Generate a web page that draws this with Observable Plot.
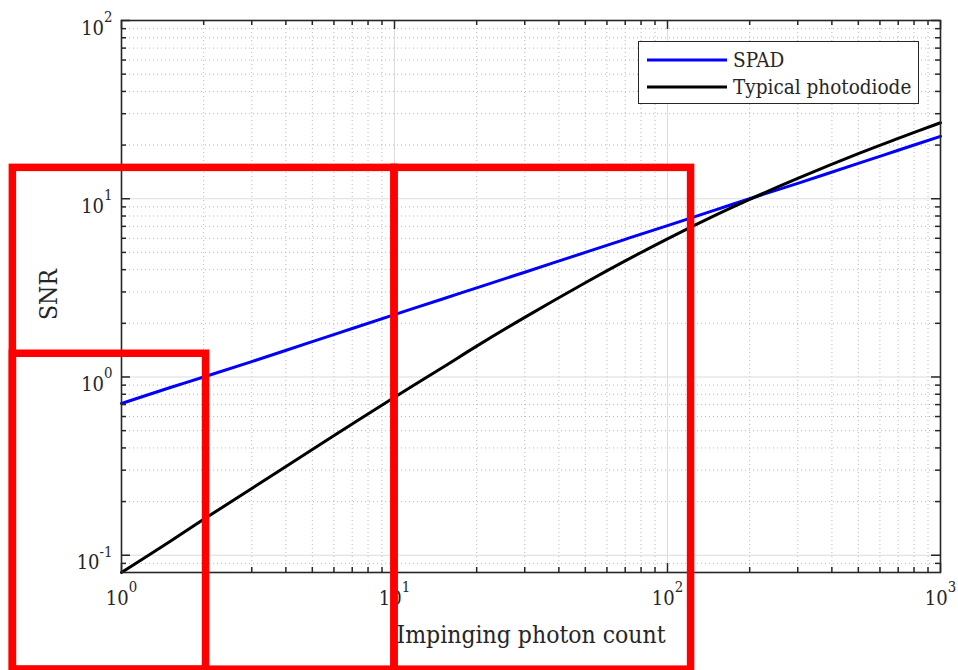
<!DOCTYPE html>
<html>
<head>
<meta charset="utf-8">
<script src="https://cdn.jsdelivr.net/npm/d3@7"></script>
<script src="https://cdn.jsdelivr.net/npm/@observablehq/plot@0.6"></script>
<style>
  body { margin: 0; background: #fff; }
  #chart {
    position: relative; width: 958px; height: 670px;
    font-family: "DejaVu Serif Condensed", "DejaVu Serif", serif;
    font-stretch: condensed; color: #262626;
  }
  #chart svg text { font-stretch: condensed; }
  #legend {
    position: absolute; left: 638px; top: 41px; width: 279px; height: 61px;
    border: 1.5px solid #262626; background: #fff; font-size: 20.5px;
  }
  #legend .row { position: absolute; left: 0; display: flex; align-items: center; height: 26px; }
  #legend .row svg { margin-left: 8px; margin-right: 6px; }
</style>
</head>
<body>
<div id="chart"></div>
<script>
// Photon counts at which the SNR curves were sampled
const photonCount = [1, 1.5, 2, 3, 5, 7, 10, 15, 20, 30, 50, 70, 100, 150, 200, 300, 500, 700, 1000];
// SNR of the single-photon avalanche diode
const spadSNR = [0.71, 0.87, 1.0, 1.22, 1.58, 1.87, 2.24, 2.74, 3.16, 3.87, 5.0, 5.92, 7.07, 8.66, 10.0, 12.2, 15.8, 18.7, 22.4];
// SNR of a typical photodiode (read-noise limited at low counts)
const photodiodeSNR = [0.080, 0.119, 0.159, 0.237, 0.392, 0.545, 0.77, 1.13, 1.49, 2.16, 3.38, 4.48, 5.96, 8.09, 9.92, 13.0, 17.9, 21.8, 26.7];

const seriesNames = ["SPAD", "Typical photodiode"];
const seriesColors = ["#0000ff", "#000000"];

const xLabel = "Impinging photon count";
const yLabel = "SNR";

// Axis ticks (log decades) and their exponent labels
const xTickValues = [1, 10, 100, 1000];
const xTickExponents = ["0", "1", "2", "3"];
const yTickValues = [0.1, 1, 10, 100];
const yTickExponents = ["-1", "0", "1", "2"];
const xMinorTicks = [2, 3, 4, 5, 6, 7, 8, 9, 20, 30, 40, 50, 60, 70, 80, 90, 200, 300, 400, 500, 600, 700, 800, 900];
const yMinorTicks = [0.09, 0.2, 0.3, 0.4, 0.5, 0.6, 0.7, 0.8, 0.9, 2, 3, 4, 5, 6, 7, 8, 9, 20, 30, 40, 50, 60, 70, 80, 90];

// Highlight boxes, in data units (photon count, SNR)
const boxX1 = [0.4, 10, 0.4];
const boxX2 = [10, 122, 2.04];
const boxY1 = [0.0228, 0.0228, 0.0228];
const boxY2 = [14.9, 14.9, 1.35];

const rows = photonCount.flatMap((n, i) => [
  {n, snr: spadSNR[i], series: seriesNames[0]},
  {n, snr: photodiodeSNR[i], series: seriesNames[1]}
]);
const boxes = boxX1.map((x1, i) => ({x1, x2: boxX2[i], y1: boxY1[i], y2: boxY2[i]}));
const xTicks = xTickValues.map((v, i) => ({v, label: "10^" + xTickExponents[i]}));
const yTicks = yTickValues.map((v, i) => ({v, label: "10^" + yTickExponents[i]}));

const W = 958, H = 670, mL = 121, mR = 18, mT = 20, mB = 98;
const innerW = W - mL - mR, innerH = H - mT - mB;
const ink = "#262626";
const majorLen = 9, minorLen = 5;

const chart = Plot.plot({
  width: W, height: H,
  marginLeft: mL, marginRight: mR, marginTop: mT, marginBottom: mB,
  x: {type: "log", domain: [1, 1000], axis: null},
  y: {type: "log", domain: [0.08, 100], axis: null},
  color: {domain: seriesNames, range: seriesColors},
  style: {
    fontFamily: "'DejaVu Serif Condensed', 'DejaVu Serif', serif",
    fontSize: "20px", color: ink, background: "#fff", overflow: "visible"
  },
  marks: [
    // minor grid (dotted) and major grid (solid)
    Plot.ruleX(xMinorTicks, {stroke: "#b9b9b9", strokeWidth: 1, strokeDasharray: "1,3"}),
    Plot.ruleY(yMinorTicks, {stroke: "#b9b9b9", strokeWidth: 1, strokeDasharray: "1,3"}),
    Plot.ruleX(xTickValues, {stroke: "#dcdcdc", strokeWidth: 1}),
    Plot.ruleY(yTickValues, {stroke: "#dcdcdc", strokeWidth: 1}),
    // curves
    Plot.line(rows, {x: "n", y: "snr", z: "series", stroke: "series", strokeWidth: 3, curve: "catmull-rom"}),
    // box around the axes
    Plot.frame({stroke: ink, strokeWidth: 1.6}),
    // inward ticks on all four sides
    Plot.ruleX(xTickValues, {stroke: ink, strokeWidth: 1.5, insetTop: innerH - majorLen}),
    Plot.ruleX(xTickValues, {stroke: ink, strokeWidth: 1.5, insetBottom: innerH - majorLen}),
    Plot.ruleX(xMinorTicks, {stroke: ink, strokeWidth: 1.5, insetTop: innerH - minorLen}),
    Plot.ruleX(xMinorTicks, {stroke: ink, strokeWidth: 1.5, insetBottom: innerH - minorLen}),
    Plot.ruleY(yTickValues, {stroke: ink, strokeWidth: 1.5, insetRight: innerW - majorLen}),
    Plot.ruleY(yTickValues, {stroke: ink, strokeWidth: 1.5, insetLeft: innerW - majorLen}),
    Plot.ruleY(yMinorTicks, {stroke: ink, strokeWidth: 1.5, insetRight: innerW - minorLen}),
    Plot.ruleY(yMinorTicks, {stroke: ink, strokeWidth: 1.5, insetLeft: innerW - minorLen}),
    // tick labels, written as base^exponent and typeset below
    Plot.text(xTicks, {x: "v", text: "label", frameAnchor: "bottom", textAnchor: "middle",
      lineAnchor: "bottom", dy: 32, fill: ink}),
    Plot.text(yTicks, {y: "v", text: "label", frameAnchor: "left", textAnchor: "end",
      lineAnchor: "bottom", dx: -9, dy: 14, fill: ink}),
    // axis titles
    Plot.text([xLabel], {text: d => d, frameAnchor: "bottom", lineAnchor: "bottom",
      dy: 70, fontSize: 24.5, fill: ink}),
    Plot.text([yLabel], {text: d => d, frameAnchor: "left", textAnchor: "middle", rotate: -90,
      dx: -72, dy: -2, fontSize: 24.5, fill: ink}),
    // highlight boxes
    Plot.rect(boxes, {x1: "x1", x2: "x2", y1: "y1", y2: "y2", fill: "none",
      stroke: "#ff0000", strokeWidth: 7.5})
  ]
});

// typeset exponents as raised, smaller text
d3.select(chart).selectAll("text").each(function () {
  const t = this.textContent;
  if (!t.includes("^")) return;
  const [base, exp] = t.split("^");
  this.textContent = base;
  d3.select(this).append("tspan").attr("dy", "-0.85em").attr("font-size", "0.74em").text(exp);
});

const container = document.getElementById("chart");
container.appendChild(chart);

// legend inside the axes, upper right
const legend = document.createElement("div");
legend.id = "legend";
const rowTops = [5, 32];
seriesNames.forEach((name, i) => {
  const row = document.createElement("div");
  row.className = "row";
  row.style.top = rowTops[i] + "px";
  row.innerHTML = `<svg width="80" height="6"><line x1="0" x2="80" y1="3" y2="3" stroke="${seriesColors[i]}" stroke-width="3"/></svg><span>${name}</span>`;
  legend.appendChild(row);
});
container.appendChild(legend);
</script>
</body>
</html>
